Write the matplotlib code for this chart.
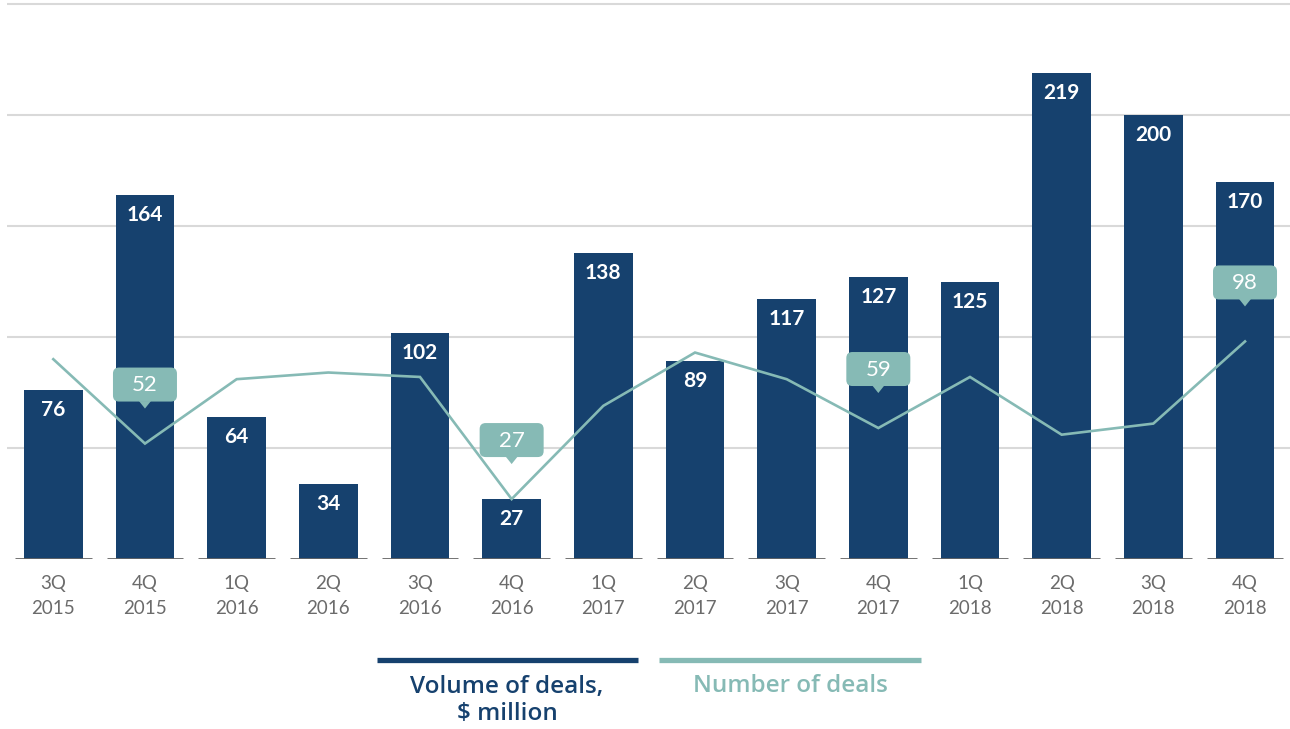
import matplotlib
matplotlib.use("Agg")
import matplotlib.pyplot as plt
import matplotlib.transforms as mtransforms
from matplotlib.patches import FancyBboxPatch, Polygon

categories = ["3Q\n2015", "4Q\n2015", "1Q\n2016", "2Q\n2016", "3Q\n2016", "4Q\n2016", "1Q\n2017",
              "2Q\n2017", "3Q\n2017", "4Q\n2017", "1Q\n2018", "2Q\n2018", "3Q\n2018", "4Q\n2018"]
volume = [76, 164, 64, 34, 102, 27, 138, 89, 117, 127, 125, 219, 200, 170]
deals = [90, 52, 81, 84, 82, 27, 69, 93, 81, 59, 82, 56, 61, 98]
labeled_deals = {1: "52", 5: "27", 9: "59", 13: "98"}
grid_values = [50, 100, 150, 200, 250]

NAVY = "#16416e"
TEAL = "#86bab5"
GRID = "#d9d9d9"
TICK = "#6b6b6b"

plt.rcParams['font.family'] = ['Lato', 'DejaVu Sans']

fig = plt.figure(figsize=(12.9, 7.29), dpi=100)
ax = fig.add_axes([0, 170 / 729, 1, 559 / 729])
n = len(categories)
xs = list(range(n))
ax.set_xlim(-53.3 / 91.67, (1290 - 53.3) / 91.67)
ax.set_ylim(0, 559 / 2.22)
ax.axis("off")

# gridlines
ax.hlines(grid_values, -0.505, 14, colors=GRID, linewidth=1.5, zorder=0)

# bars
ax.bar(xs, volume, width=0.64, color=NAVY, zorder=2)
# baseline segments
ax.hlines([0] * n, [x - 0.417 for x in xs], [x + 0.417 for x in xs], colors="#666666",
          linewidth=2, zorder=3)

# bar labels
lbl_off = mtransforms.offset_copy(ax.transData, fig=fig, x=0, y=-20, units="dots")
for x, v in zip(xs, volume):
    ax.text(x, v, str(v), transform=lbl_off, ha="center", va="center", color="white",
            fontsize=15, fontweight="bold", zorder=4)

# line
ax.plot(xs, deals, color=TEAL, linewidth=1.9, zorder=5, solid_joinstyle="miter")

# callouts
for i, txt in labeled_deals.items():
    trans = fig.dpi_scale_trans + mtransforms.ScaledTranslation(i, deals[i], ax.transData)
    bottom = 0.42
    box = FancyBboxPatch((-0.32, bottom), 0.64, 0.34,
                         boxstyle="round,pad=0,rounding_size=0.06",
                         transform=trans, facecolor=TEAL, edgecolor="none", zorder=6)
    ax.add_patch(box)
    tri = Polygon([(-0.06, bottom + 0.005), (0.06, bottom + 0.005), (0, bottom - 0.07)],
                  closed=True, transform=trans, facecolor=TEAL, edgecolor="none", zorder=6)
    ax.add_patch(tri)
    ax.text(0, bottom + 0.165, txt, transform=trans, ha="center", va="center",
            color="white", fontsize=16, fontweight="normal", zorder=7)

# tick labels
for x, c in zip(xs, categories):
    top, bot = c.split("\n")
    ax.text(x, 0, top, transform=mtransforms.offset_copy(ax.transData, fig=fig, x=0, y=-25, units="dots"),
            ha="center", va="center", color=TICK, fontsize=13.5, fontweight="normal")
    ax.text(x, 0, bot, transform=mtransforms.offset_copy(ax.transData, fig=fig, x=0, y=-50, units="dots"),
            ha="center", va="center", color=TICK, fontsize=13.5, fontweight="normal")

# legend
def fx(px):
    return px / 1290

def fy(py):
    return (729 - py) / 729

LEG_FONT = ['Open Sans', 'DejaVu Sans']
fig.add_artist(plt.Line2D([fx(377), fx(638)], [fy(660), fy(660)], color=NAVY, linewidth=3.8,
                          solid_capstyle="butt"))
fig.add_artist(plt.Line2D([fx(659), fx(921)], [fy(660), fy(660)], color=TEAL, linewidth=3.8,
                          solid_capstyle="butt"))
fig.text(fx(507), fy(687), "Volume of deals,", ha="center", va="center", color=NAVY,
         fontsize=17.5, fontweight="semibold", family=LEG_FONT)
fig.text(fx(507), fy(714), "$ million", ha="center", va="center", color=NAVY,
         fontsize=17.5, fontweight="semibold", family=LEG_FONT)
fig.text(fx(790), fy(686), "Number of deals", ha="center", va="center", color=TEAL,
         fontsize=17.5, fontweight="semibold", family=LEG_FONT)

fig.savefig("out.png", dpi=100)
